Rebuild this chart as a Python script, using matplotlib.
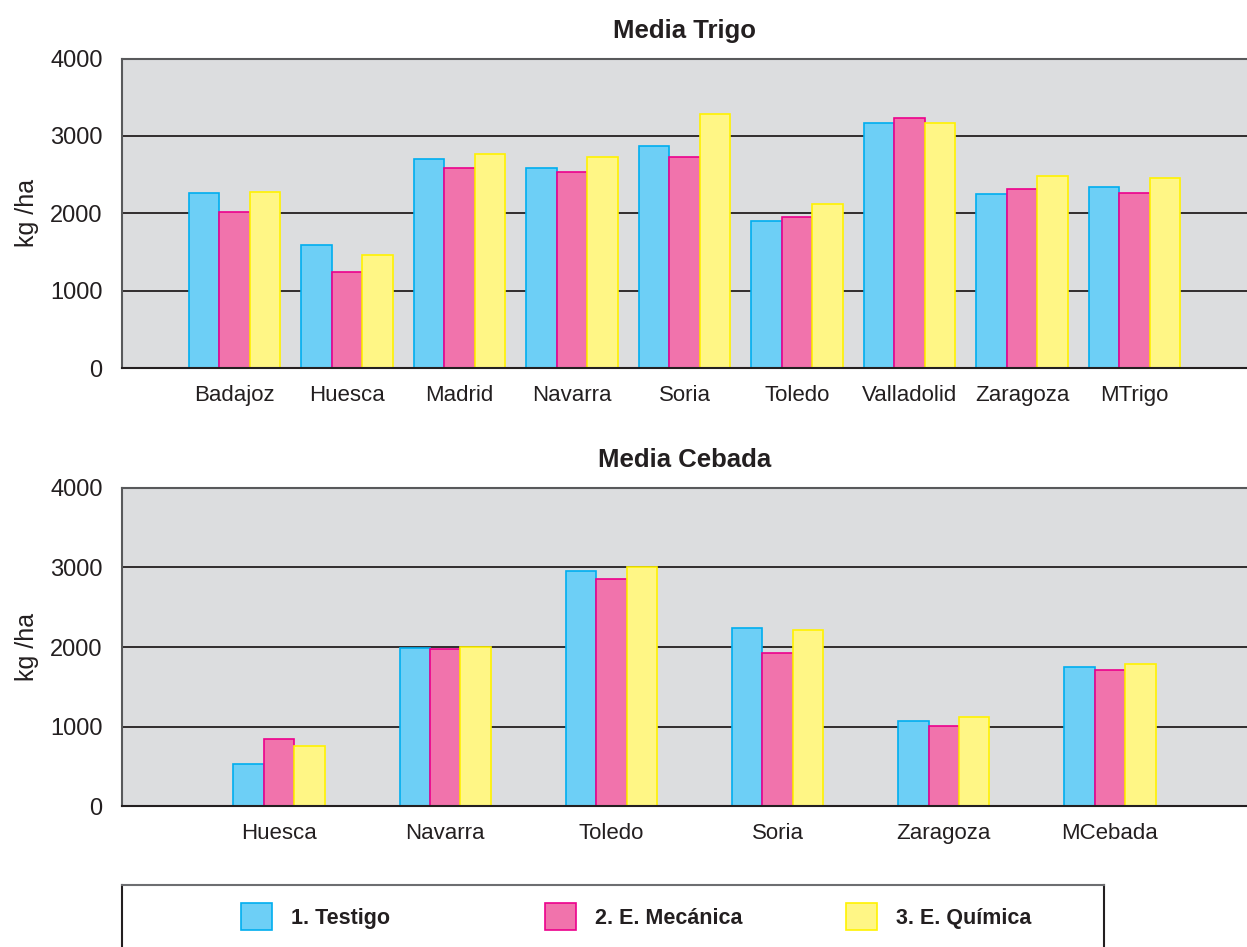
import numpy as np
import matplotlib
matplotlib.use("Agg")
import matplotlib.pyplot as plt

plt.rcParams["font.family"] = ["Liberation Sans", "DejaVu Sans"]

# Rendimientos medios (kg/ha)
trigo_sitios = ["Badajoz", "Huesca", "Madrid", "Navarra", "Soria",
                "Toledo", "Valladolid", "Zaragoza", "MTrigo"]
trigo_testigo = [2260, 1590, 2700, 2580, 2870, 1900, 3160, 2245, 2340]
trigo_mecanica = [2020, 1245, 2590, 2530, 2730, 1955, 3230, 2310, 2260]
trigo_quimica = [2280, 1460, 2765, 2725, 3280, 2120, 3165, 2480, 2460]

cebada_sitios = ["Huesca", "Navarra", "Toledo", "Soria", "Zaragoza", "MCebada"]
cebada_testigo = [535, 1985, 2950, 2240, 1065, 1745]
cebada_mecanica = [845, 1970, 2860, 1930, 1010, 1705]
cebada_quimica = [760, 2000, 3000, 2215, 1120, 1785]

tratamientos = ["1. Testigo", "2. E. Mecánica", "3. E. Química"]
relleno = ["#6dcff6", "#f173ac", "#fff685"]
borde = ["#00aeef", "#ec008c", "#fff200"]

W, H = 1247, 947
fig = plt.figure(figsize=(W / 100, H / 100), dpi=100)


def panel(rect, titulo, sitios, series, xlim, ancho):
    ax = fig.add_axes(rect)
    ax.set_facecolor("#dcdddf")
    x = np.arange(1, len(sitios) + 1)
    barras = []
    for i, vals in enumerate(series):
        b = ax.bar(x + (i - 1) * ancho, vals, width=ancho, color=relleno[i],
                   edgecolor=borde[i], linewidth=1.2, zorder=2)
        barras.append(b)
    ax.set_xlim(*xlim)
    ax.set_ylim(0, 4000)
    ax.set_yticks([0, 1000, 2000, 3000, 4000])
    ax.set_xticks(x)
    ax.set_xticklabels(sitios, fontsize=16, color="#231f20")
    ax.tick_params(axis="y", length=0, pad=14, labelsize=17, labelcolor="#231f20")
    ax.tick_params(axis="x", length=0, pad=12)
    ax.yaxis.grid(True, color="#231f20", linewidth=1.3)
    ax.set_axisbelow(True)
    ax.set_ylabel("kg /ha", fontsize=18, color="#231f20", labelpad=8)
    ax.set_title(titulo, fontsize=18.5, fontweight="bold", color="#231f20", pad=15)
    ax.spines["right"].set_visible(False)
    for s in ("left", "top"):
        ax.spines[s].set_color("#58595b")
        ax.spines[s].set_linewidth(1.5)
    ax.spines["bottom"].set_color("#231f20")
    ax.spines["bottom"].set_linewidth(1.5)
    return barras


left = 122 / W
barras = panel([left, 1 - 368 / H, 1 - left, (368 - 58.5) / H], "Media Trigo",
               trigo_sitios, [trigo_testigo, trigo_mecanica, trigo_quimica],
               (0, 10), 0.27)
panel([left, 1 - 806.3 / H, 1 - left, (806.3 - 487.7) / H], "Media Cebada",
      cebada_sitios, [cebada_testigo, cebada_mecanica, cebada_quimica],
      (0.055, 6.825), 0.183)

# Recuadro de la leyenda
lax = fig.add_axes([left, -0.05, 1104 / W - left, 1 - 885 / H + 0.05])
lax.set_xticks([])
lax.set_yticks([])
lax.spines["bottom"].set_visible(False)
lax.spines["top"].set_color("#6d6e71")
for s in ("top", "left", "right"):
    lax.spines[s].set_linewidth(1.5)
lax.spines["left"].set_color("#231f20")
lax.spines["right"].set_color("#231f20")

for i, xpx in enumerate([241, 545, 846]):
    leg = fig.legend([barras[i]], [tratamientos[i]], loc="center left",
                     bbox_to_anchor=(xpx / W, 1 - 916.5 / H),
                     bbox_transform=fig.transFigure, frameon=False,
                     borderpad=0, borderaxespad=0, handlelength=1.45,
                     handleheight=1.62, handletextpad=0.85,
                     prop={"size": 15.5, "weight": "bold"})
    for t in leg.get_texts():
        t.set_color("#231f20")

fig.savefig("out.png", dpi=100)
